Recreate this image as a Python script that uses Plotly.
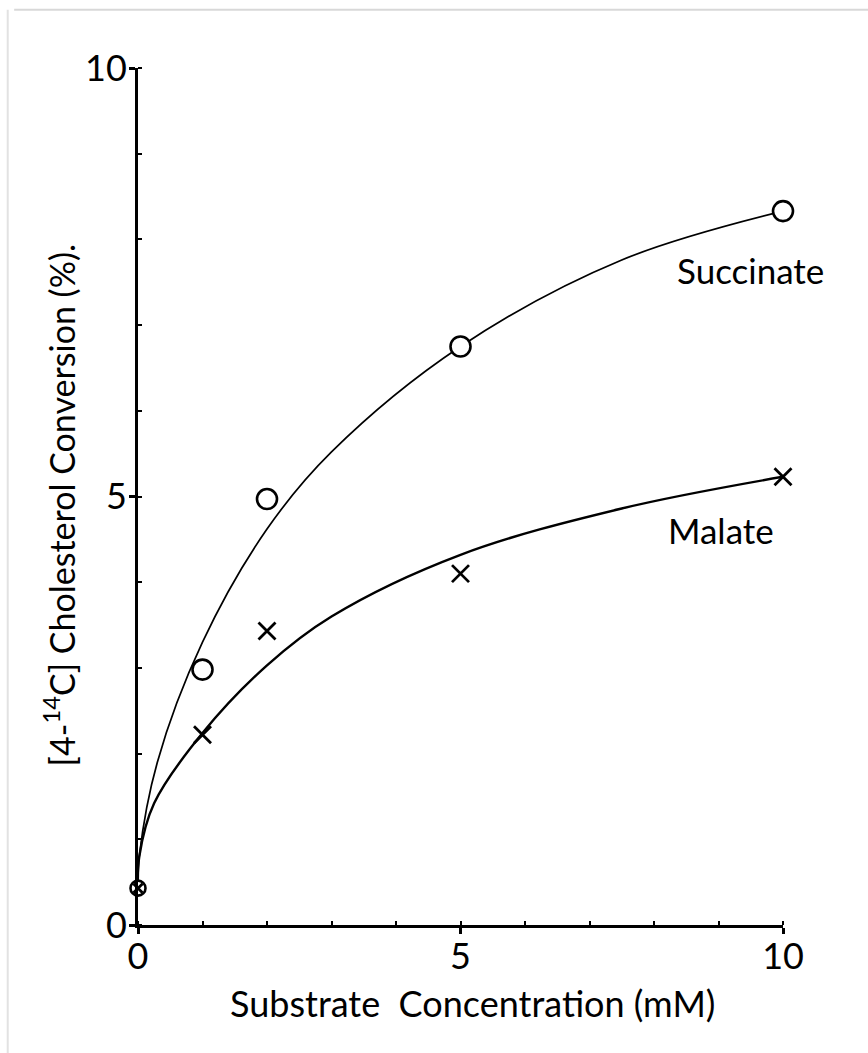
import plotly.graph_objects as go

# Measured points
conc = [0, 1, 2, 5, 10]
succinate = [0.43, 2.98, 4.97, 6.75, 8.33]
malate = [0.43, 2.22, 3.43, 4.1, 5.23]

# Hand-drawn trend curves
succ_curve_x = [0, 0.02, 0.3, 1.0, 2.0, 3.0, 5.0, 7.5, 10]
succ_curve_y = [0.43, 0.8, 1.9, 3.3, 4.62, 5.52, 6.75, 7.76, 8.33]
mal_curve_x = [0, 0.02, 0.25, 1.0, 2.0, 3.0, 5.0, 7.5, 10]
mal_curve_y = [0.43, 0.8, 1.42, 2.24, 3.03, 3.6, 4.32, 4.86, 5.23]

tick_vals = [0, 5, 10]
tick_text = ["0", "5", "10"]

FONT = "Lato"
INK = "black"

fig = go.Figure()

fig.add_trace(go.Scatter(
    x=succ_curve_x, y=succ_curve_y, mode="lines",
    line=dict(color=INK, width=1.7, shape="spline", smoothing=1.0),
    hoverinfo="skip", showlegend=False))
fig.add_trace(go.Scatter(
    x=mal_curve_x, y=mal_curve_y, mode="lines",
    line=dict(color=INK, width=2.4, shape="spline", smoothing=1.0),
    hoverinfo="skip", showlegend=False))

# Succinate: open circles (smaller at the origin, where both series coincide)
fig.add_trace(go.Scatter(
    x=conc, y=succinate, mode="markers", name="Succinate", cliponaxis=False,
    marker=dict(symbol="circle", size=[15, 20, 20, 20, 20], color="white",
                opacity=1, line=dict(color=INK, width=2.6)),
    showlegend=False))
# Malate: crosses
fig.add_trace(go.Scatter(
    x=conc, y=malate, mode="markers", name="Malate", cliponaxis=False,
    marker=dict(symbol="x-thin-open", size=[9, 17, 17, 17, 17], color=INK,
                opacity=1, line=dict(color=INK, width=2.8)),
    showlegend=False))

axis_common = dict(
    range=[0, 10], showgrid=False, zeroline=False,
    showline=True, linecolor=INK, linewidth=3,
    tickmode="array", tickvals=tick_vals, ticktext=tick_text,
    ticks="outside", ticklen=6, tickwidth=2.5, tickcolor=INK,
    tickfont=dict(family=FONT, size=36, color=INK),
    minor=dict(tickmode="linear", tick0=0, dtick=1, ticks="inside",
               ticklen=4, tickwidth=1.5, tickcolor=INK),
)
fig.update_xaxes(**axis_common, ticklabelstandoff=-8)
fig.update_yaxes(**axis_common, ticklabelstandoff=-5)

fig.add_annotation(
    text="Substrate&nbsp;&nbsp;Concentration (mM)", xref="x", yref="paper",
    x=5.18, y=-0.091, showarrow=False, xanchor="center", yanchor="middle",
    font=dict(family=FONT, size=36, color=INK))
fig.add_annotation(
    text="[4-<sup>14</sup>C] Cholesterol Conversion (%).", xref="paper", yref="paper",
    x=-0.122, y=0.49, showarrow=False, textangle=-90,
    xanchor="center", yanchor="middle",
    font=dict(family=FONT, size=34, color=INK))

fig.add_annotation(text="Succinate", x=9.49, y=7.64, showarrow=False,
                   font=dict(family=FONT, size=35, color=INK))
fig.add_annotation(text="Malate", x=9.04, y=4.61, showarrow=False,
                   font=dict(family=FONT, size=35, color=INK))

# faint edge of the sheet along the top and left
fig.add_shape(type="line", xref="paper", yref="paper", layer="below",
              x0=-0.192, x1=1.14, y0=1.068, y1=1.068,
              line=dict(color="#d8d8d8", width=2))
fig.add_shape(type="line", xref="paper", yref="paper", layer="below",
              x0=-0.202, x1=-0.202, y0=1.068, y1=-0.16,
              line=dict(color="#e2e2e2", width=2))

fig.update_layout(
    width=868, height=1053,
    margin=dict(l=138, r=85, t=68, b=128),
    paper_bgcolor="white", plot_bgcolor="white",
    showlegend=False,
)

fig.write_html("out.html")
